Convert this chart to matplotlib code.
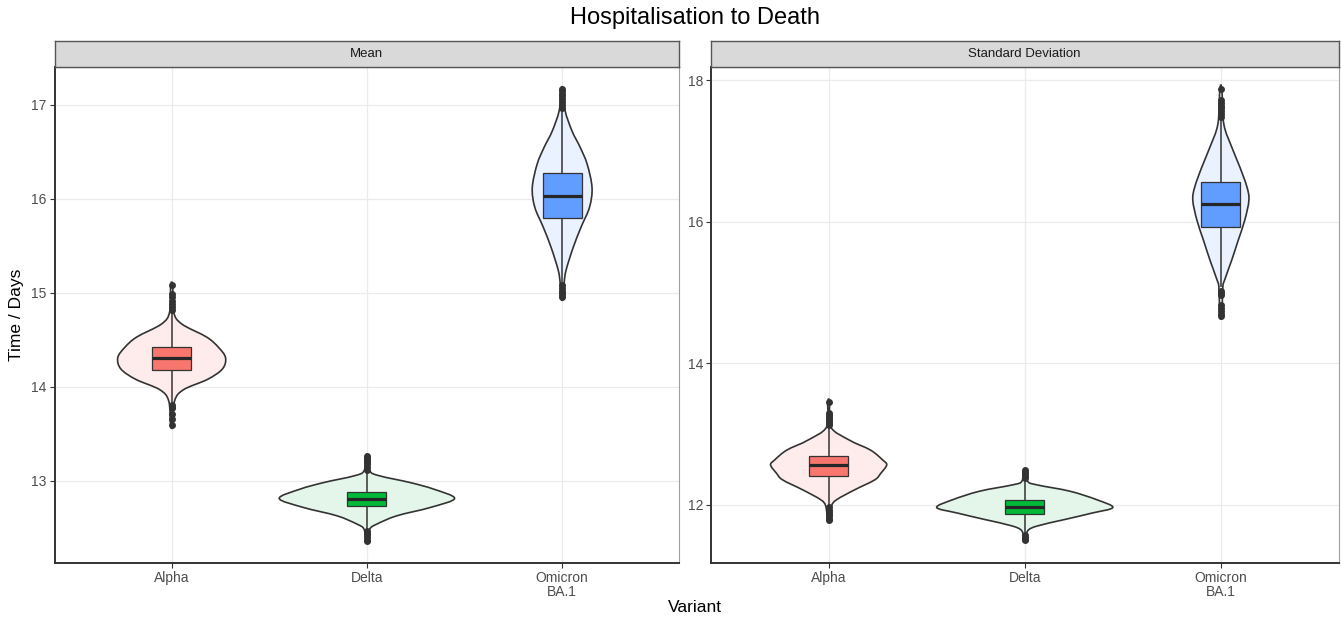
import numpy as np
import matplotlib
matplotlib.use('Agg')
import matplotlib.pyplot as plt
from matplotlib.path import Path
from matplotlib.patches import PathPatch, Rectangle

plt.rcParams['font.family'] = ['Liberation Sans', 'DejaVu Sans']

# ---------------- data ----------------
variants = ['Alpha', 'Delta', 'Omicron\nBA.1']
panels = ['Mean', 'Standard Deviation']
box_colors = ['#F8766D', '#00BA38', '#619CFF']
violin_colors = ['#FDECEB', '#E4F6E9', '#EBF2FF']

# Violin outlines: value (days) and half-width (fraction of category spacing)
mean_alpha_y = [15.08, 14.80, 14.67, 14.53, 14.42, 14.31, 14.19, 14.08, 13.97, 13.85, 13.59]
mean_alpha_w = [0.005, 0.010, 0.051, 0.179, 0.240, 0.276, 0.260, 0.184, 0.061, 0.015, 0.005]
mean_delta_y = [13.265, 13.106, 13.053, 12.983, 12.912, 12.813, 12.718, 12.628, 12.540, 12.487, 12.363]
mean_delta_w = [0.005, 0.015, 0.066, 0.219, 0.342, 0.449, 0.327, 0.153, 0.051, 0.015, 0.005]
mean_omicron_y = [17.166, 16.94, 16.72, 16.55, 16.37, 16.12, 15.91, 15.70, 15.48, 15.24, 15.10, 14.94]
mean_omicron_w = [0.005, 0.015, 0.051, 0.092, 0.128, 0.153, 0.140, 0.097, 0.056, 0.020, 0.010, 0.005]

sd_alpha_y = [13.45, 13.10, 12.91, 12.77, 12.63, 12.56, 12.44, 12.35, 12.21, 12.07, 11.98, 11.77]
sd_alpha_w = [0.005, 0.010, 0.107, 0.214, 0.276, 0.296, 0.265, 0.235, 0.133, 0.041, 0.015, 0.005]
sd_delta_y = [12.49, 12.33, 12.28, 12.19, 12.07, 11.96, 11.88, 11.79, 11.70, 11.63, 11.49]
sd_delta_w = [0.005, 0.015, 0.061, 0.230, 0.367, 0.449, 0.342, 0.204, 0.066, 0.015, 0.005]
sd_omicron_y = [17.87, 17.38, 17.05, 16.77, 16.49, 16.30, 16.02, 15.74, 15.46, 15.18, 15.07, 14.67]
sd_omicron_w = [0.005, 0.015, 0.056, 0.097, 0.133, 0.143, 0.122, 0.089, 0.056, 0.020, 0.010, 0.005]

# Box statistics: whisker low, Q1, median, Q3, whisker high
mean_whislo = [13.83, 12.49, 15.10]
mean_q1 = [14.18, 12.728, 15.80]
mean_med = [14.31, 12.806, 16.035]
mean_q3 = [14.42, 12.883, 16.27]
mean_whishi = [14.80, 13.11, 16.95]

sd_whislo = [11.98, 11.60, 15.07]
sd_q1 = [12.41, 11.87, 15.93]
sd_med = [12.56, 11.97, 16.25]
sd_q3 = [12.69, 12.07, 16.56]
sd_whishi = [13.10, 12.35, 17.45]

# Outliers
mean_alpha_out = [14.82, 14.85, 14.88, 14.91, 14.96, 14.99, 15.08, 13.81, 13.79, 13.77, 13.71, 13.66, 13.59]
mean_delta_out = [13.12, 13.15, 13.18, 13.20, 13.22, 13.24, 13.26, 12.47, 12.45, 12.43, 12.40, 12.37, 12.36]
mean_omicron_out = [16.97, 17.00, 17.03, 17.06, 17.09, 17.12, 17.15, 17.17, 15.08, 15.05, 15.02, 15.00, 14.98, 14.96]
sd_alpha_out = [13.12, 13.15, 13.18, 13.21, 13.24, 13.27, 13.30, 13.45, 11.96, 11.93, 11.90, 11.87, 11.84, 11.80, 11.78]
sd_delta_out = [12.37, 12.40, 12.43, 12.46, 12.49, 11.57, 11.54, 11.52, 11.50]
sd_omicron_out = [17.48, 17.52, 17.56, 17.60, 17.64, 17.68, 17.72, 17.87, 15.02, 14.99, 14.96, 14.82, 14.78, 14.74, 14.70, 14.67]

mean_ticks = [13, 14, 15, 16, 17]
sd_ticks = [12, 14, 16, 18]

panel_data = [
    dict(prof=[(mean_alpha_y, mean_alpha_w), (mean_delta_y, mean_delta_w), (mean_omicron_y, mean_omicron_w)],
         stats=(mean_whislo, mean_q1, mean_med, mean_q3, mean_whishi),
         outs=[mean_alpha_out, mean_delta_out, mean_omicron_out], ticks=mean_ticks),
    dict(prof=[(sd_alpha_y, sd_alpha_w), (sd_delta_y, sd_delta_w), (sd_omicron_y, sd_omicron_w)],
         stats=(sd_whislo, sd_q1, sd_med, sd_q3, sd_whishi),
         outs=[sd_alpha_out, sd_delta_out, sd_omicron_out], ticks=sd_ticks),
]


def smooth_closed_path(pts):
    """Closed Catmull-Rom curve through pts, as cubic Bezier path."""
    pts = np.asarray(pts, dtype=float)
    n = len(pts)
    verts = [pts[0]]
    codes = [Path.MOVETO]
    for i in range(n):
        p0 = pts[(i - 1) % n]
        p1 = pts[i]
        p2 = pts[(i + 1) % n]
        p3 = pts[(i + 2) % n]
        c1 = p1 + (p2 - p0) / 6.0
        c2 = p2 - (p3 - p1) / 6.0
        verts += [c1, c2, p2]
        codes += [Path.CURVE4] * 3
    verts.append(pts[0])
    codes.append(Path.CLOSEPOLY)
    return Path(verts, codes)


fig = plt.figure(figsize=(13.41, 6.23), dpi=100)
W, H = 1341.0, 623.0
axes_px = [(54.5, 679.3), (711.0, 1338.5)]
top_px, bot_px = 66.7, 563.3
strip_top = 40.7

for k, (x0, x1) in enumerate(axes_px):
    pdict = panel_data[k]
    ax = fig.add_axes([x0 / W, (H - bot_px) / H, (x1 - x0) / W, (bot_px - top_px) / H])
    ax.set_facecolor('white')
    pos = np.arange(1, len(variants) + 1)

    all_vals = []
    for i, (yy, ww) in enumerate(pdict['prof']):
        yy = np.asarray(yy)
        ww = np.asarray(ww)
        all_vals += list(yy)
        right = np.column_stack([pos[i] + ww, yy])
        left = np.column_stack([pos[i] - ww[::-1], yy[::-1]])
        pts = np.vstack([right, left])
        path = smooth_closed_path(pts)
        ax.add_patch(PathPatch(path, facecolor=violin_colors[i], edgecolor='#333333', lw=1.2, zorder=2))

    wlo, q1, med, q3, whi = pdict['stats']
    for i in range(len(variants)):
        ax.plot([pos[i], pos[i]], [q3[i], whi[i]], color='#333333', lw=1.1, zorder=3, solid_capstyle='butt')
        ax.plot([pos[i], pos[i]], [wlo[i], q1[i]], color='#333333', lw=1.1, zorder=3, solid_capstyle='butt')
        ax.add_patch(Rectangle((pos[i] - 0.1, q1[i]), 0.2, q3[i] - q1[i], facecolor=box_colors[i],
                               edgecolor='#333333', lw=0.9, zorder=3))
        ax.plot([pos[i] - 0.1, pos[i] + 0.1], [med[i], med[i]], color='#262626', lw=2.3, zorder=4,
                solid_capstyle='butt')
        ov = pdict['outs'][i]
        ax.plot([pos[i]] * len(ov), ov, 'o', color='#333333', ms=5, mec='none', zorder=5)

    lo, hi = min(all_vals), max(all_vals)
    pad = 0.05 * (hi - lo)
    ax.set_ylim(lo - pad, hi + pad)
    ax.set_xlim(0.4, 3.6)
    ax.set_xticks(pos)
    ax.set_xticklabels(variants, fontsize=10, color='#4D4D4D', linespacing=1.0)
    ax.set_yticks(pdict['ticks'])
    ax.set_yticklabels([str(t) for t in pdict['ticks']], fontsize=10, color='#4D4D4D')
    ax.tick_params(axis='both', length=3.5, width=0.8, color='#333333', pad=2)
    ax.grid(True, color='#EBEBEB', lw=0.9, zorder=0)
    ax.set_axisbelow(True)
    for s in ['left', 'bottom']:
        ax.spines[s].set_color('#333333')
        ax.spines[s].set_linewidth(1.4)
    ax.spines['right'].set_color('#A0A0A0')
    ax.spines['right'].set_linewidth(0.8)
    ax.spines['top'].set_color('#555555')
    ax.spines['top'].set_linewidth(0.8)

    # strip
    sax = fig.add_axes([x0 / W, (H - top_px) / H, (x1 - x0) / W, (top_px - strip_top) / H])
    sax.set_facecolor('#D9D9D9')
    sax.set_xticks([])
    sax.set_yticks([])
    for s in sax.spines.values():
        s.set_color('#555555')
        s.set_linewidth(1.0)
    sax.text(0.5, 0.5, panels[k], ha='center', va='center', fontsize=9.5, color='#1A1A1A',
             transform=sax.transAxes)

fig.text(695 / W, 1 - 18 / H, 'Hospitalisation to Death', ha='center', va='center', fontsize=17,
         color='black')
fig.text(17 / W, 1 - 315 / H, 'Time / Days', ha='center', va='center', rotation=90, fontsize=12.5,
         color='black')
fig.text(695 / W, 1 - 607 / H, 'Variant', ha='center', va='center', fontsize=12.5,
         color='black')

fig.savefig('out.png', dpi=100, facecolor='white')
